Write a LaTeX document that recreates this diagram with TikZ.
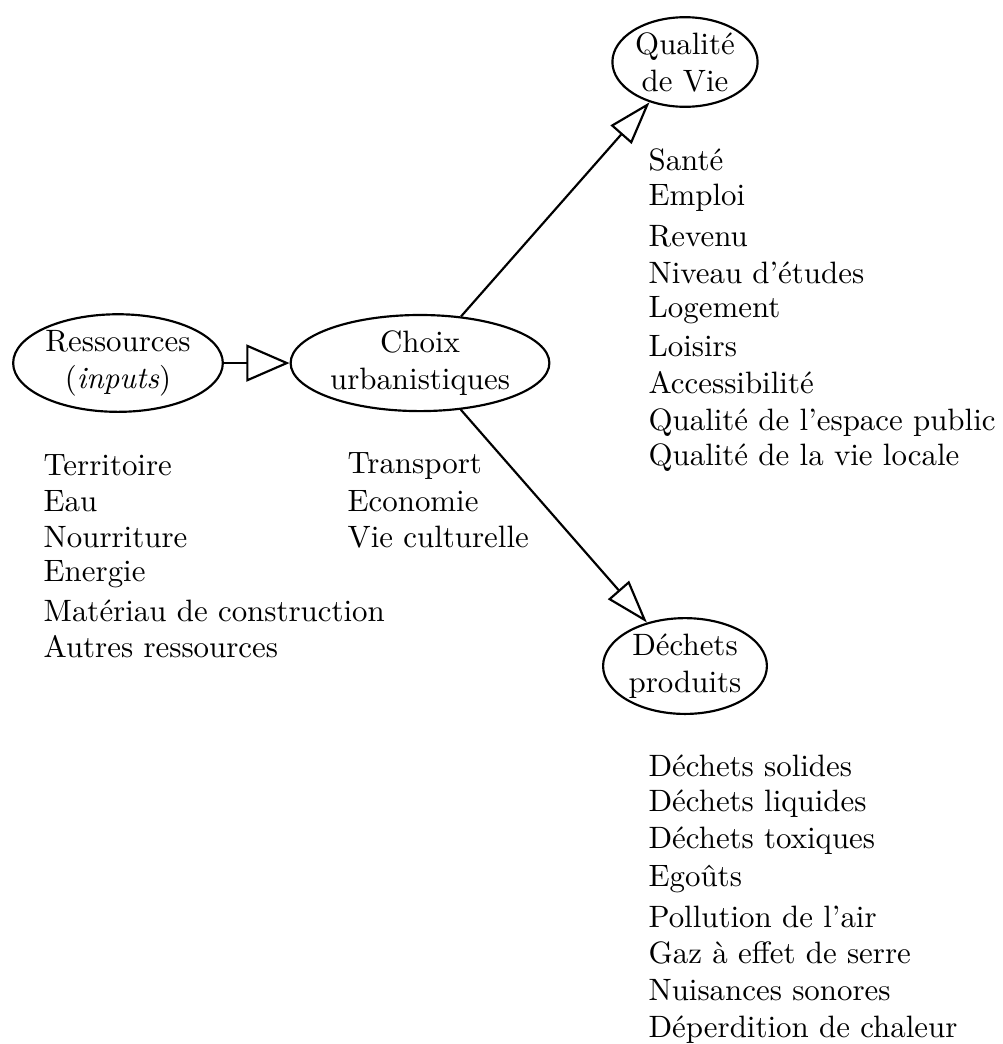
\documentclass[tikz,border=0pt]{standalone}
\usetikzlibrary{shapes.geometric,arrows.meta}
\begin{document}
\begin{tikzpicture}[
  bulle/.style={draw, ellipse, line width=0.7pt, inner sep=0.5pt, minimum height=29pt, align=center},
  flux/.style={line width=0.7pt, -{Triangle[open, length=14pt, width=#1]}},
  flux/.default=9pt,
  item/.style={anchor=base west, inner sep=0pt}]
\useasboundingbox (0,0) rectangle (11.397,-11.874);
\node[bulle] (res) at (1.342,-4.129) {Ressources\\(\textit{inputs})};
\node[bulle] (choix) at (4.777,-4.129) {Choix\\urbanistiques};
\node[bulle] (qual) at (7.791,-0.705) {Qualité\\de Vie};
\node[bulle] (dech) at (7.791,-7.575) {Déchets\\produits};
\draw[flux=12pt] (res) -- (choix);
\draw[flux] (choix) -- (qual);
\draw[flux] (choix) -- (dech);
\foreach \y/\t [count=\i] in {5.403/Territoire, 5.812/Eau, 6.222/Nourriture, 6.608/Energie, 7.063/Matériau de construction, 7.473/Autres ressources}
  \node[item] (ress\i) at (0.49,-\y) {\t};
\foreach \y/\t [count=\i] in {5.380/Transport, 5.812/Economie, 6.222/Vie culturelle}
  \node[item] (urb\i) at (3.947,-\y) {\t};
\foreach \y/\t [count=\i] in {1.934/Santé, 2.332/Emploi, 2.809/Revenu, 3.219/Niveau d'études, 3.606/Logement, 4.060/Loisirs, 4.470/Accessibilité, 4.891/Qualité de l'espace public, 5.289/Qualité de la vie locale}
  \node[item] (vie\i) at (7.370,-\y) {\t};
\foreach \y/\t [count=\i] in {8.826/Déchets solides, 9.224/Déchets liquides, 9.645/Déchets toxiques, 10.077/Egoûts, 10.544/Pollution de l'air, 10.953/Gaz à effet de serre, 11.374/Nuisances sonores, 11.795/Déperdition de chaleur}
  \node[item] (dech\i) at (7.370,-\y) {\t};
\end{tikzpicture}
\end{document}
